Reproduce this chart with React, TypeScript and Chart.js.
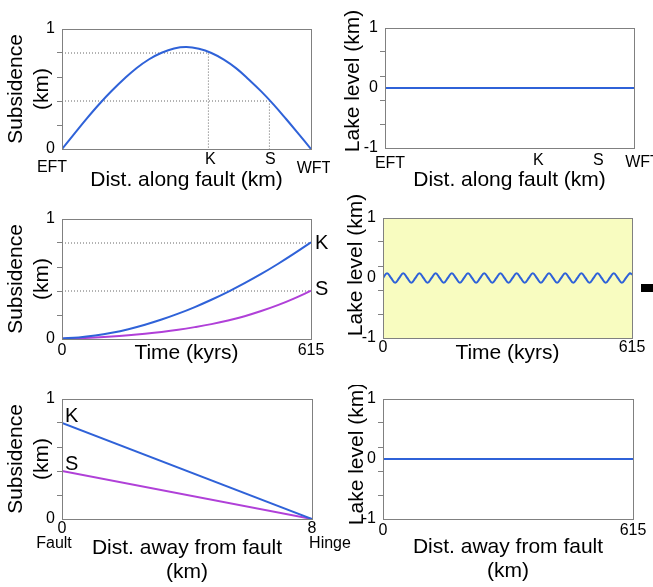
import React, { useEffect, useRef } from 'react';
import { Chart, registerables } from 'chart.js';
Chart.register(...registerables);

const FONT = "'Liberation Sans', Arial, Helvetica, sans-serif";
const BLUE = '#2f62d8';
const PURPLE = '#b040d8';
const GUIDE = '#666666';
const FRAME = '#808080';
const LAKE_BG = '#f8fcc0';

// ---------- data ----------
// Row 1: along the fault (x = % of distance from EFT to WFT)
const ALONG_X = [0, 5, 10, 15, 20, 25, 30, 35, 40, 45, 50, 55, 60, 65, 70, 75, 80, 85, 90, 95, 100];
const ALONG_SUBSIDENCE = [0, 0.128, 0.255, 0.375, 0.485, 0.585, 0.675, 0.748, 0.802, 0.838, 0.85, 0.835, 0.8, 0.745, 0.672, 0.58, 0.48, 0.37, 0.25, 0.126, 0];
const ALONG_ENDS = ['EFT', 'WFT'];
const SITE_NAMES = ['K', 'S'];
const SITE_POS = [58.8, 83.3];
const SITE_MAX_SUBSIDENCE = [0.8, 0.4];
const ALONG_LAKE_X = [0, 100];
const ALONG_LAKE = [0, 0];

// Row 2: through time (kyrs)
const TIME = [0, 41, 82, 123, 164, 205, 246, 287, 328, 369, 410, 451, 492, 533, 574, 615];
const K_SUB_TIME = [0.005, 0.013, 0.029, 0.052, 0.082, 0.119, 0.162, 0.211, 0.266, 0.327, 0.393, 0.465, 0.542, 0.625, 0.713, 0.806];
const S_SUB_TIME = [0.003, 0.0065, 0.012, 0.02, 0.031, 0.044, 0.059, 0.077, 0.099, 0.124, 0.154, 0.19, 0.233, 0.282, 0.339, 0.402];
const WAVE_TIME = [0, 10, 20, 30, 40, 50, 60, 70, 80, 90, 100, 110, 120, 130, 140, 150, 160, 170, 180, 190, 200, 210, 220, 230, 240, 250, 260, 270, 280, 290, 300, 310, 320, 330, 340, 350, 360, 370, 380, 390, 400, 410, 420, 430, 440, 450, 460, 470, 480, 490, 500, 510, 520, 530, 540, 550, 560, 570, 580, 590, 600, 610, 615];
const WAVE_LEVEL = [
  0, 0.08, 0, -0.08, 0, 0.08, 0, -0.08, 0, 0.08, 0, -0.08, 0, 0.08, 0, -0.08,
  0, 0.08, 0, -0.08, 0, 0.08, 0, -0.08, 0, 0.08, 0, -0.08, 0, 0.08, 0, -0.08,
  0, 0.08, 0, -0.08, 0, 0.08, 0, -0.08, 0, 0.08, 0, -0.08, 0, 0.08, 0, -0.08,
  0, 0.08, 0, -0.08, 0, 0.08, 0, -0.08, 0, 0.08, 0, -0.08, 0, 0.08, 0.057,
];

// Row 3: away from the fault
const DIST = [0, 8];
const K_SUB_DIST = [0.8, 0];
const S_SUB_DIST = [0.4, 0];
const DIST_ENDS = ['Fault', 'Hinge'];
const LAKE_DIST_X = [0, 615];
const LAKE_DIST = [0, 0];

// ticks
const SUB_TICKS = [0, 0.2, 0.4, 0.6, 0.8, 1];
const SUB_LABELS = [0, 1];
const LAKE_TICKS = [-1, -0.6, -0.2, 0, 0.2, 0.6, 1];
const LAKE_LABELS = [-1, 0, 1];
const TIME_TICKS = [0, 615];
const DIST_TICKS = [0, 8];
const LAKE_DIST_TICKS = [0, 615];

// ---------- helpers ----------
type Note = { text?: string; x: number; y: number; dx: number; dy: number; size?: number; align?: CanvasTextAlign; box?: [number, number] };

const decoPlugin = {
  id: 'panelDeco',
  beforeDatasetsDraw(chart: any, _a: any, opts: any) {
    if (!opts || !opts.bg) return;
    const { ctx, chartArea: c } = chart;
    ctx.save();
    ctx.fillStyle = opts.bg;
    ctx.fillRect(c.left, c.top, c.right - c.left, c.bottom - c.top);
    ctx.restore();
  },
  afterDatasetsDraw(chart: any, _a: any, opts: any) {
    const { ctx, chartArea: c, scales } = chart;
    ctx.save();
    ctx.strokeStyle = FRAME;
    ctx.lineWidth = 1;
    ctx.strokeRect(Math.round(c.left) + 0.5, Math.round(c.top) + 0.5, Math.round(c.right - c.left), Math.round(c.bottom - c.top));
    const notes: Note[] = (opts && opts.notes) || [];
    for (const n of notes) {
      const px = scales.x.getPixelForValue(n.x) + n.dx;
      const py = scales.y.getPixelForValue(n.y) + n.dy;
      if (n.box) {
        ctx.fillStyle = '#000';
        ctx.fillRect(px, py, n.box[0], n.box[1]);
        continue;
      }
      ctx.font = `${n.size || 16}px ${FONT}`;
      ctx.textAlign = n.align || 'center';
      ctx.textBaseline = 'middle';
      ctx.fillStyle = '#000';
      ctx.fillText(n.text || '', px, py);
    }
    // vertical axis title drawn with a shift along the axis
    if (opts && opts.yTitle) {
      const t = opts.yTitle;
      ctx.translate(t.x, (c.top + c.bottom) / 2 + t.shift);
      ctx.rotate(-Math.PI / 2);
      ctx.font = `21px ${FONT}`;
      ctx.textAlign = 'center';
      ctx.textBaseline = 'middle';
      ctx.fillStyle = '#000';
      ctx.fillText(t.text, 0, 0);
    }
    ctx.restore();
  },
};

const line = (xs: number[], ys: number[], color: string, tension = 0.4) => ({
  data: xs.map((x, i) => ({ x, y: ys[i] })),
  borderColor: color,
  borderWidth: 2,
  pointRadius: 0,
  tension,
  fill: false,
});
const guide = (xs: number[], ys: number[]) => ({
  data: xs.map((x, i) => ({ x, y: ys[i] })),
  borderColor: GUIDE,
  borderWidth: 1,
  borderDash: [1, 2],
  pointRadius: 0,
  tension: 0,
  fill: false,
});

type Spec = {
  datasets: any[];
  xMin: number; xMax: number; xTicks: number[] | null; xTickPad: number;
  xTitle: string | string[]; xTitlePad: number; xTitleLH: number;
  yMin: number; yMax: number; yTicks: number[]; yLabels: number[];
  yTitle: string | string[]; yTitlePad: number; yTitleShift?: number;
  padTop: number; padRight: number; yW: number; xH: number;
  bg?: string; notes: Note[];
};

function makeConfig(s: Spec): any {
  const shifted = s.yTitleShift !== undefined;
  return {
    type: 'line',
    data: { datasets: s.datasets },
    plugins: [decoPlugin],
    options: {
      responsive: false,
      animation: false,
      devicePixelRatio: 1,
      events: [],
      layout: { padding: { left: 0, top: s.padTop, right: s.padRight, bottom: 0 } },
      plugins: {
        legend: { display: false },
        tooltip: { enabled: false },
        panelDeco: {
          bg: s.bg,
          notes: s.notes,
          yTitle: shifted ? { text: s.yTitle, x: 13 + s.yTitlePad, shift: s.yTitleShift } : null,
        },
      },
      scales: {
        x: {
          type: 'linear',
          min: s.xMin,
          max: s.xMax,
          afterBuildTicks: (sc: any) => { if (s.xTicks) sc.ticks = s.xTicks.map((v) => ({ value: v })); },
          afterFit: (sc: any) => { sc.height = s.xH; sc.paddingLeft = 0; sc.paddingRight = 0; },
          ticks: {
            display: !!s.xTicks,
            autoSkip: false,
            maxRotation: 0,
            padding: s.xTickPad,
            color: '#000',
            font: { family: FONT, size: 16 },
            callback: (v: any) => String(v),
          },
          grid: { display: false, drawTicks: false },
          border: { display: false },
          title: {
            display: true,
            text: s.xTitle,
            color: '#000',
            font: { family: FONT, size: 21, lineHeight: s.xTitleLH },
            padding: { top: 0, bottom: s.xTitlePad },
          },
        },
        y: {
          type: 'linear',
          min: s.yMin,
          max: s.yMax,
          afterBuildTicks: (sc: any) => { sc.ticks = s.yTicks.map((v) => ({ value: v })); },
          afterFit: (sc: any) => { sc.width = s.yW; sc.paddingTop = 0; sc.paddingBottom = 0; },
          ticks: {
            autoSkip: false,
            padding: 2,
            color: '#000',
            font: { family: FONT, size: 16 },
            callback: (v: any) => (s.yLabels.includes(Number(v)) ? String(v) : ''),
          },
          grid: {
            drawOnChartArea: false,
            drawTicks: true,
            tickLength: 5,
            tickWidth: 1,
            color: FRAME,
            tickColor: (ctx: any) => (ctx.tick && s.yLabels.includes(ctx.tick.value) ? 'rgba(0,0,0,0)' : FRAME),
          },
          border: { display: false },
          title: {
            display: !shifted,
            text: s.yTitle,
            color: '#000',
            font: { family: FONT, size: 21, lineHeight: 1.25 },
            padding: { top: s.yTitlePad, bottom: 0 },
          },
        },
      },
    },
  };
}

function Panel({ left, top, width, height, spec }: { left: number; top: number; width: number; height: number; spec: Spec }) {
  const ref = useRef<HTMLCanvasElement>(null);
  useEffect(() => {
    const chart = new Chart(ref.current as HTMLCanvasElement, makeConfig(spec));
    return () => chart.destroy();
  }, []);
  return <canvas ref={ref} width={width} height={height} style={{ position: 'absolute', left, top, width, height }} />;
}

const SUB_TITLE = ['Subsidence', '(km)'];
const LAKE_TITLE = 'Lake level (km)';

const P1: Spec = {
  datasets: [
    line(ALONG_X, ALONG_SUBSIDENCE, BLUE),
    guide([0, SITE_POS[0], SITE_POS[0]], [SITE_MAX_SUBSIDENCE[0], SITE_MAX_SUBSIDENCE[0], 0]),
    guide([0, SITE_POS[1], SITE_POS[1]], [SITE_MAX_SUBSIDENCE[1], SITE_MAX_SUBSIDENCE[1], 0]),
  ],
  xMin: 0, xMax: 100, xTicks: null, xTickPad: 0,
  xTitle: 'Dist. along fault (km)', xTitlePad: 2, xTitleLH: 1.2,
  yMin: 0, yMax: 1, yTicks: SUB_TICKS, yLabels: SUB_LABELS, yTitle: SUB_TITLE, yTitlePad: 3,
  padTop: 29, padRight: 19, yW: 62, xH: 46,
  notes: [
    { text: ALONG_ENDS[0], x: 0, y: 0, dx: -10, dy: 19 },
    { text: SITE_NAMES[0], x: SITE_POS[0], y: 0, dx: 2, dy: 11 },
    { text: SITE_NAMES[1], x: SITE_POS[1], y: 0, dx: 1, dy: 11 },
    { text: ALONG_ENDS[1], x: 100, y: 0, dx: 3, dy: 20 },
  ],
};

const P2: Spec = {
  datasets: [line(ALONG_LAKE_X, ALONG_LAKE, BLUE, 0)],
  xMin: 0, xMax: 100, xTicks: null, xTickPad: 0,
  xTitle: 'Dist. along fault (km)', xTitlePad: 2, xTitleLH: 1.2,
  yMin: -1, yMax: 1, yTicks: LAKE_TICKS, yLabels: LAKE_LABELS, yTitle: LAKE_TITLE, yTitlePad: 10, yTitleShift: -7,
  padTop: 28, padRight: 19, yW: 55, xH: 47,
  notes: [
    { text: ALONG_ENDS[0], x: 0, y: -1, dx: 5, dy: 16 },
    { text: SITE_NAMES[0], x: SITE_POS[0], y: -1, dx: 7, dy: 12.5 },
    { text: SITE_NAMES[1], x: SITE_POS[1], y: -1, dx: 6, dy: 12.5 },
    { text: ALONG_ENDS[1], x: 100, y: -1, dx: 8.5, dy: 14.5 },
  ],
};

const P3: Spec = {
  datasets: [
    line(TIME, K_SUB_TIME, BLUE),
    line(TIME, S_SUB_TIME, PURPLE),
    guide([0, 615], [SITE_MAX_SUBSIDENCE[0], SITE_MAX_SUBSIDENCE[0]]),
    guide([0, 615], [SITE_MAX_SUBSIDENCE[1], SITE_MAX_SUBSIDENCE[1]]),
  ],
  xMin: 0, xMax: 615, xTicks: TIME_TICKS, xTickPad: 2,
  xTitle: 'Time (kyrs)', xTitlePad: 24, xTitleLH: 1.2,
  yMin: 0, yMax: 1, yTicks: SUB_TICKS, yLabels: SUB_LABELS, yTitle: SUB_TITLE, yTitlePad: 3,
  padTop: 24, padRight: 19, yW: 62, xH: 51,
  notes: [
    { text: SITE_NAMES[0], x: 615, y: SITE_MAX_SUBSIDENCE[0], dx: 4, dy: 0, size: 20, align: 'left' },
    { text: SITE_NAMES[1], x: 615, y: SITE_MAX_SUBSIDENCE[1], dx: 4, dy: -2, size: 20, align: 'left' },
  ],
};

const P4: Spec = {
  datasets: [line(WAVE_TIME, WAVE_LEVEL, BLUE)],
  xMin: 0, xMax: 615, xTicks: TIME_TICKS, xTickPad: 0,
  xTitle: 'Time (kyrs)', xTitlePad: 24, xTitleLH: 1.2,
  yMin: -1, yMax: 1, yTicks: LAKE_TICKS, yLabels: LAKE_LABELS, yTitle: LAKE_TITLE, yTitlePad: 13, yTitleShift: -13,
  padTop: 23, padRight: 21, yW: 53, xH: 52,
  bg: LAKE_BG,
  notes: [{ box: [12, 8], x: 615, y: 0, dx: 9, dy: 6 }],
};

const P5: Spec = {
  datasets: [line(DIST, K_SUB_DIST, BLUE, 0), line(DIST, S_SUB_DIST, PURPLE, 0)],
  xMin: 0, xMax: 8, xTicks: DIST_TICKS, xTickPad: 0,
  xTitle: ['Dist. away from fault', '(km)'], xTitlePad: 3, xTitleLH: 1.143,
  yMin: 0, yMax: 1, yTicks: SUB_TICKS, yLabels: SUB_LABELS, yTitle: SUB_TITLE, yTitlePad: 3,
  padTop: 14, padRight: 48, yW: 62, xH: 68,
  notes: [
    { text: SITE_NAMES[0], x: 0, y: K_SUB_DIST[0], dx: 3, dy: -7, size: 20, align: 'left' },
    { text: SITE_NAMES[1], x: 0, y: S_SUB_DIST[0], dx: 3, dy: -7, size: 20, align: 'left' },
    { text: DIST_ENDS[0], x: 0, y: 0, dx: -8, dy: 25 },
    { text: DIST_ENDS[1], x: 8, y: 0, dx: 18, dy: 25 },
  ],
};

const P6: Spec = {
  datasets: [line(LAKE_DIST_X, LAKE_DIST, BLUE, 0)],
  xMin: 0, xMax: 615, xTicks: LAKE_DIST_TICKS, xTickPad: 2,
  xTitle: ['Dist. away from fault', '(km)'], xTitlePad: 4, xTitleLH: 1.143,
  yMin: -1, yMax: 1, yTicks: LAKE_TICKS, yLabels: LAKE_LABELS, yTitle: LAKE_TITLE, yTitlePad: 14, yTitleShift: -5,
  padTop: 14, padRight: 20, yW: 53, xH: 68,
  notes: [],
};

export default function App() {
  return (
    <div style={{ position: 'absolute', left: 0, top: 0, width: 653, height: 587, background: '#fff', overflow: 'hidden' }}>
      <Panel left={0} top={0} width={330} height={195} spec={P1} />
      <Panel left={330} top={0} width={323} height={195} spec={P2} />
      <Panel left={0} top={195} width={330} height={195} spec={P3} />
      <Panel left={330} top={195} width={323} height={195} spec={P4} />
      <Panel left={0} top={385} width={360} height={202} spec={P5} />
      <Panel left={330} top={385} width={323} height={202} spec={P6} />
    </div>
  );
}
